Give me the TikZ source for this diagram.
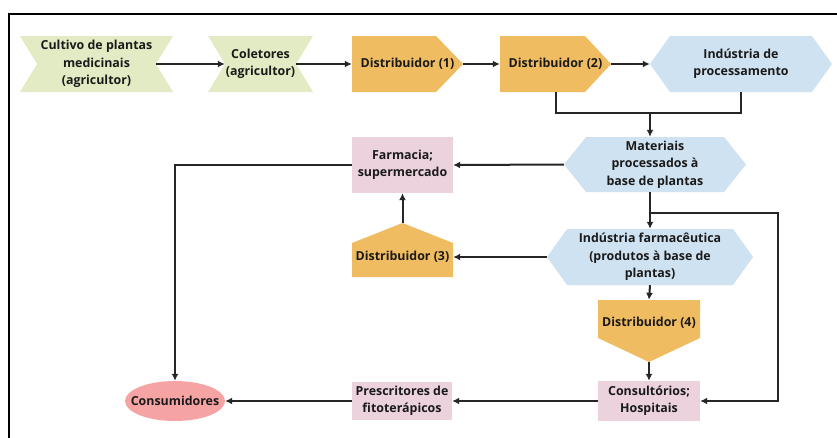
\documentclass[tikz,border=0pt]{standalone}
\usepackage{fontspec}
\setmainfont{Open Sans}
\usetikzlibrary{arrows.meta}

\definecolor{leaf}{HTML}{E2EBC3}
\definecolor{amber}{HTML}{F0BC62}
\definecolor{sky}{HTML}{CFE2F1}
\definecolor{blush}{HTML}{EBD2DD}
\definecolor{coral}{HTML}{F5A3A3}
\definecolor{ink}{HTML}{1A1A1A}
\definecolor{wire}{HTML}{262626}

\tikzset{
  box/.style={inner sep=0pt, align=center, text=ink,
    font=\bfseries\fontsize{12.4}{17.3}\selectfont},
  % ribbon with both ends cut inwards
  notched/.style={box, path picture={
    \fill[leaf] (path picture bounding box.north west) -- (path picture bounding box.north east)
      -- ([xshift=-#1]path picture bounding box.east) -- (path picture bounding box.south east)
      -- (path picture bounding box.south west) -- ([xshift=#1]path picture bounding box.west) -- cycle;}},
  % pentagon pointing right
  pointright/.style={box, path picture={
    \fill[amber] (path picture bounding box.north west) -- ([xshift=-#1]path picture bounding box.north east)
      -- (path picture bounding box.east) -- ([xshift=-#1]path picture bounding box.south east)
      -- (path picture bounding box.south west) -- cycle;}},
  % pentagon pointing up
  pointup/.style={box, path picture={
    \fill[amber] (path picture bounding box.north) -- ([yshift=-#1]path picture bounding box.north east)
      -- (path picture bounding box.south east) -- (path picture bounding box.south west)
      -- ([yshift=-#1]path picture bounding box.north west) -- cycle;}},
  % pentagon pointing down
  pointdown/.style={box, path picture={
    \fill[amber] (path picture bounding box.north west) -- (path picture bounding box.north east)
      -- ([yshift=#1]path picture bounding box.south east) -- (path picture bounding box.south)
      -- ([yshift=#1]path picture bounding box.south west) -- cycle;}},
  % flat hexagon
  hexa/.style={box, path picture={
    \fill[sky] ([xshift=#1]path picture bounding box.north west) -- ([xshift=-#1]path picture bounding box.north east)
      -- (path picture bounding box.east) -- ([xshift=-#1]path picture bounding box.south east)
      -- ([xshift=#1]path picture bounding box.south west) -- (path picture bounding box.west) -- cycle;}},
  plain/.style={box, fill=blush},
  % oval filling the node's box
  oval/.style={box, path picture={
    \fill[coral] (path picture bounding box.center) ellipse [x radius=50pt, y radius=20pt];}},
  flow/.style={draw=wire, line width=2pt, -{Latex[length=7pt,width=7pt]}},
  link/.style={draw=wire, line width=2pt},
}

\begin{document}
\begin{tikzpicture}[x=1pt, y=-1pt]
  \useasboundingbox (0,0) rectangle (837,437);
  \fill[white] (0,0) rectangle (837,437);

  % outer frame (open to the right and bottom)
  \draw[line width=2pt, black] (9.3,440) -- (9.3,14.3) -- (840,14.3);

  % top row
  \node[notched=17, minimum width=153, minimum height=56] (cultivo) at (96.5,64)
    {Cultivo de plantas\\medicinais\\(agricultor)};
  \node[notched=17, minimum width=105, minimum height=56] (coletores) at (260.5,64)
    {Coletores\\(agricultor)};
  \node[pointright=27, minimum width=111, minimum height=56] (dist1) at (407.5,64)
    {Distribuidor (1)};
  \node[pointright=26, minimum width=111, minimum height=56] (dist2) at (555.5,64)
    {Distribuidor (2)};
  \node[hexa=20, minimum width=182, minimum height=56] (indproc) at (741,64)
    {Indústria de\\processamento};

  % middle
  \node[hexa=22, minimum width=182, minimum height=55] (materiais) at (655,164.5)
    {Materiais\\processados à\\base de plantas};
  \node[plain, minimum width=101, minimum height=56] (farmacia) at (402.5,165)
    {Farmacia;\\supermercado};
  \node[pointup=20, minimum width=101, minimum height=54,
        label={[box, yshift=-7pt]center:Distribuidor (3)}] (dist3) at (402.5,250) {};
  \node[hexa=20, minimum width=206, minimum height=56] (indfarm) at (650,257)
    {Indústria farmacêutica\\(produtos à base de\\plantas)};
  \node[pointdown=24, minimum width=102, minimum height=62,
        label={[box, yshift=8pt]center:Distribuidor (4)}] (dist4) at (649,331) {};

  % bottom row
  \node[plain, minimum width=102, minimum height=40] (consult) at (649,401)
    {Consultórios;\\Hospitais};
  \node[plain, minimum width=100, minimum height=38] (prescr) at (402,401)
    {Prescritores de\\fitoterápicos};
  \node[oval, minimum width=100, minimum height=40] (consum) at (175,401)
    {Consumidores};

  % junctions
  \coordinate (j1) at (650,113);
  \coordinate (j2) at (650,213);
  \coordinate (rt) at (778,213);

  % connectors
  \draw[flow] ([xshift=-17pt]cultivo.east) -- ([xshift=17pt]coletores.west);
  \draw[flow] ([xshift=-17pt]coletores.east) -- (dist1.west);
  \draw[flow] (dist1.east) -- (dist2.west);
  \draw[flow] (dist2.east) -- (indproc.west);
  \draw[link] (dist2.south) |- (j1) -| (indproc.south);
  \draw[flow] (j1) -- (j1 |- materiais.north);
  \draw[flow] (materiais.west) -- (farmacia.east);
  \draw[flow] (farmacia.west) -| (consum.north);
  \draw[flow] (j1 |- materiais.south) -- (indfarm.north);
  \draw[flow] (j2) -- (rt) |- (consult.east);
  \draw[flow] (indfarm.west) -- (dist3.east |- indfarm.west);
  \draw[flow] (dist3.north) -- (farmacia.south);
  \draw[flow] (indfarm.south) -- (dist4.north);
  \draw[flow] (dist4.south) -- (consult.north);
  \draw[flow] (consult.west) -- (prescr.east);
  \draw[flow] (prescr.west) -- (consum.east);
\end{tikzpicture}
\end{document}
